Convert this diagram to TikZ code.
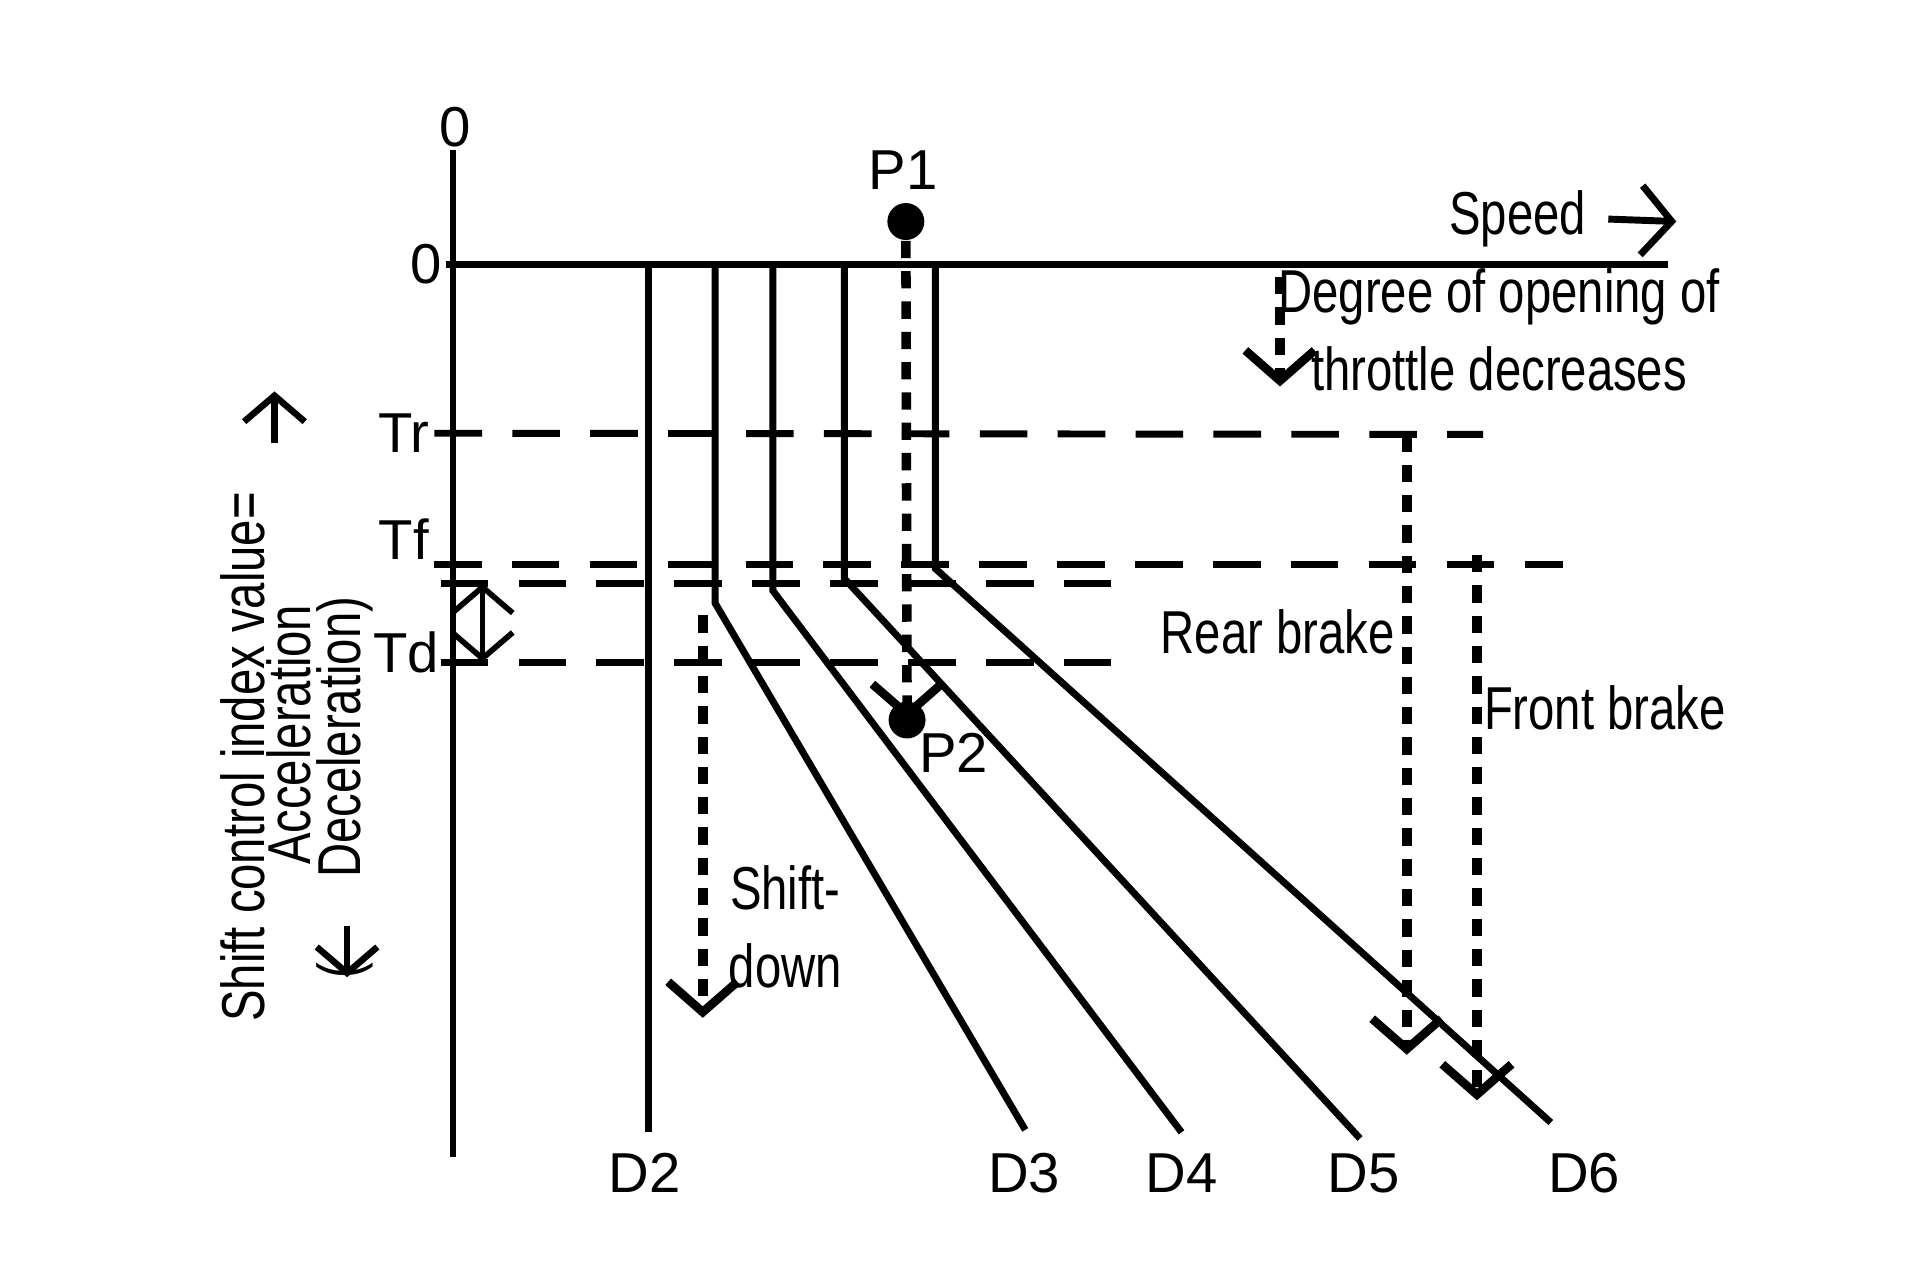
\documentclass[tikz,border=0pt]{standalone}
\usepackage{fontspec}
\setmainfont{Liberation Sans}
\newfontfamily\narrowfont[FakeStretch=0.78]{Liberation Sans}
\usetikzlibrary{arrows.meta}
\usetikzlibrary{positioning}
\tikzset{lbl/.style={font=\fontsize{13}{15}\selectfont,inner sep=1pt}}
\tikzset{nlbl/.style={font=\narrowfont\fontsize{14}{18}\selectfont,inner sep=1pt,align=center}}
\tikzset{gear/.style={line width=1.6pt}}
\tikzset{level/.style={line width=1.6pt,dash pattern=on 11pt off 7pt}}
\tikzset{dotarrow/.style={line width=2.2pt,dash pattern=on 4pt off 3pt,-{Straight Barb[length=7pt,width=16pt,line width=2pt]}}}
\tikzset{dot/.style={circle,fill=black,minimum size=0.3cm,inner sep=0pt}}
\begin{document}
\begin{tikzpicture}[x=0.01cm,y=-0.01cm]
        \useasboundingbox (0,0) rectangle (1560,1040);

        % axes
        \coordinate (ytop) at (368,122);
        \coordinate (ybot) at (368,940);
        \coordinate (xl) at (362,215);
        \coordinate (xr) at (1355,215);
        \draw[line width=1.3pt] (ytop) -- (ybot);
        \draw[gear] (xl) -- (xr);
        \node[lbl] (zy) at (370,103) {0};
        \node[lbl] (zx) at (346,215) {0};

        % threshold levels
        \node[lbl] (tr) at (328,352) {Tr};
        \node[lbl] (tf) at (328,438) {Tf};
        \node[lbl] (td) at (330,530) {Td};
        \coordinate (tre) at (1205,353);
        \coordinate (tfe) at (1270,451);
        \coordinate (tds) at (358,474);
        \coordinate (tde) at (918,474);
        \coordinate (tdb) at (358,538);
        \coordinate (tdbe) at (918,538);
        \draw[level] (tr.east) -- (tr.east -| 370,0) -- (tre);
        \draw[level] (tf.south east) -- (tfe |- tf.south east);
        \draw[level] (tds) -- (tde);
        \draw[level] (tdb) -- (tdbe);
        \draw[line width=1.3pt,{Straight Barb[length=6pt,width=14pt]}-{Straight Barb[length=6pt,width=14pt]}]
            (392,474) -- (392,538);

        % shift lines
        \coordinate (d2t) at (527,215);
        \coordinate (d2b) at (527,920);
        \draw[gear] (d2t) -- (d2b);
        \draw[gear] (581,215) -- (581,490) -- (833,918);
        \draw[gear] (628,215) -- (628,480) -- (960,920);
        \draw[gear] (686,215) -- (686,470) -- (1105,925);
        \draw[gear] (760,215) -- (760,462) -- (1260,912);
        \node[lbl] (d2) at (524,953) {D2};
        \node[lbl] (d3) at (832,953) {D3};
        \node[lbl] (d4) at (960,953) {D4};
        \node[lbl] (d5) at (1108,953) {D5};
        \node[lbl] (d6) at (1287,953) {D6};

        % operating points
        \node[dot] (p1) at (736,180) {};
        \node[dot] (p2) at (737,585) {};
        \node[lbl] (p1l) at (734,138) {P1};
        \node[lbl] (p2l) at (775,612) {P2};
        \draw[dotarrow] (p1) -- (p2.center);

        % annotations
        \node[nlbl] (spd) at (1233,178) {Speed};
        \coordinate (spe) at (1362,180);
        \draw[line width=1.6pt,-{Straight Barb[length=7pt,width=16pt]}] (spd.east) ++(14,0) -- (spe);
        \node[nlbl] (thr) at (1218,268) {Degree of opening of\\throttle decreases};
        \coordinate (thrb) at (1040,225);
        \coordinate (thre) at (1040,314);
        \draw[dotarrow] (thrb) -- (thre);
        \node[nlbl] (rb) at (1038,513) {Rear brake};
        \draw[dotarrow] (tre -| 1143,0) -- (1143,857);
        \node[nlbl] (fb) at (1304,575) {Front brake};
        \draw[dotarrow] (tfe -| 1200,0) -- (1200,894);
        \node[nlbl] (sd) at (638,753) {Shift-\\down};
        \draw[dotarrow] (571,500) -- (571,827);

        % vertical axis title
        \node[nlbl,rotate=90] (yt1) at (197,615) {Shift control index value=};
        \node[nlbl,rotate=90] (yt2) at (235,597) {Acceleration};
        \node[nlbl,rotate=90] (yt3) at (280,640) {(\hspace{1.4em}Deceleration)};
        \draw[line width=1.5pt,-{Straight Barb[length=6pt,width=14pt]}] (223,360) -- (223,318);
        \draw[line width=1.5pt,-{Straight Barb[length=6pt,width=14pt]}] (282,752) -- (282,794);
    \end{tikzpicture}
\end{document}
